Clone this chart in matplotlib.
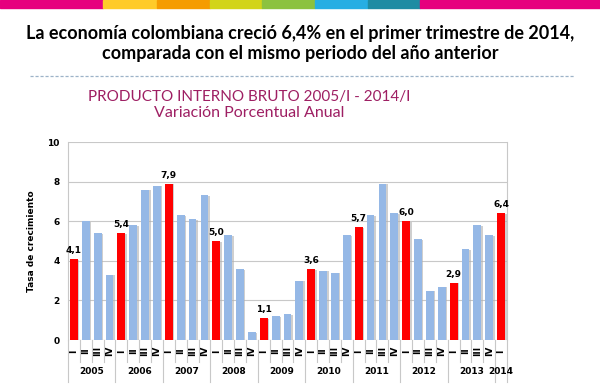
import matplotlib.pyplot as plt
from matplotlib.patches import Rectangle
import matplotlib.transforms as mtransforms

# datos: variación porcentual anual del PIB por trimestre
anios = ['2005', '2006', '2007', '2008', '2009', '2010', '2011', '2012', '2013', '2014']
trimestres = ['I', 'II', 'III', 'IV']
valores = [4.1, 6.0, 5.4, 3.3,
           5.4, 5.8, 7.6, 7.8,
           7.9, 6.3, 6.1, 7.3,
           5.0, 5.3, 3.6, 0.4,
           1.1, 1.2, 1.3, 3.0,
           3.6, 3.5, 3.4, 5.3,
           5.7, 6.3, 7.9, 6.4,
           6.0, 5.1, 2.5, 2.7,
           2.9, 4.6, 5.8, 5.3,
           6.4]

etiquetas = [trimestres[i % 4] for i in range(len(valores))]
x = list(range(len(valores)))
colores = ['#FF0000' if i % 4 == 0 else '#95B8E6' for i in x]

fig = plt.figure(figsize=(6, 3.86), dpi=100)
fig.patch.set_facecolor('white')

# franja de colores superior
franja = [(0, 103, '#E6007E'), (103, 157, '#FFCB29'), (157, 210, '#F59C00'),
          (210, 262, '#D2D419'), (262, 315, '#8CC23F'), (315, 368, '#27AEE3'),
          (368, 420, '#1E8CA3'), (420, 600, '#E6007E')]
for x0, x1, c in franja:
    fig.patches.append(Rectangle((x0 / 600, 1 - 8 / 386), (x1 - x0) / 600, 8 / 386,
                                 transform=fig.transFigure, color=c, zorder=5))

fig.text(0.5, 1 - 33 / 386, 'La economía colombiana creció 6,4% en el primer trimestre de 2014,',
         ha='center', va='center', fontsize=13.0, fontweight='bold', family='Lato')
fig.text(0.5, 1 - 54 / 386, 'comparada con el mismo periodo del año anterior',
         ha='center', va='center', fontsize=13.0, fontweight='bold', family='Lato')
fig.lines.append(plt.Line2D([30 / 600, 575 / 600], [1 - 76 / 386, 1 - 76 / 386],
                            transform=fig.transFigure, color='#9DB3C8', lw=0.9,
                            linestyle=(0, (2.5, 1.5))))

fig.text(249 / 600, 1 - 97 / 386, 'PRODUCTO INTERNO BRUTO 2005/I - 2014/I',
         ha='center', va='center', fontsize=11, color='#9E1F63', family='Lato')
fig.text(249 / 600, 1 - 113 / 386, 'Variación Porcentual Anual',
         ha='center', va='center', fontsize=11.5, color='#9E1F63', family='Lato')

ax = fig.add_axes([68 / 600, 1 - 340 / 386, 439 / 600, 198 / 386])
ancho = 0.66
# sombra
ax.bar([i + 0.13 for i in x], [v - 0.04 for v in valores], width=ancho,
       color='#B0B0B0', alpha=0.6, zorder=2)
ax.bar(x, valores, width=ancho, color=colores, zorder=3)

for i, v in enumerate(valores):
    if i % 4 == 0:
        ax.text(i, v + 0.2, f'{v:.1f}'.replace('.', ','), ha='center', va='bottom',
                fontsize=6.5, fontweight='bold', family='DejaVu Sans')

ax.set_xlim(-0.5, len(valores) - 0.5)
ax.set_ylim(0, 10)
ax.set_yticks([0, 2, 4, 6, 8, 10])
ax.set_yticklabels(['0', '2', '4', '6', '8', '10'], fontsize=6.5, fontweight='bold')
ax.tick_params(axis='y', length=0, pad=6)
ax.set_xticks([])
ax.grid(axis='y', color='#C8C8C8', lw=0.8, zorder=0)
for s in ['top', 'bottom']:
    ax.spines[s].set_visible(False)
for s in ['left', 'right']:
    ax.spines[s].set_color('#C8C8C8')
ax.set_ylabel('Tasa de crecimiento', fontsize=6.5, fontweight='bold', labelpad=8)

# tabla de categorías bajo el eje
trans = mtransforms.blended_transform_factory(ax.transData, ax.transAxes)
h_trim = 22 / 198
h_anio = 42 / 198
for i, et in enumerate(etiquetas):
    ax.text(i, -11 / 198, et, transform=trans, rotation=90, ha='center', va='center',
            fontsize=6.5, fontweight='bold')
for i in range(len(valores) + 1):
    largo = h_anio if i % 4 == 0 or i == len(valores) else h_trim
    ax.plot([i - 0.5, i - 0.5], [0, -largo], transform=trans, color='#C8C8C8',
            lw=0.8, clip_on=False)
for k, a in enumerate(anios):
    n = min(4, len(valores) - 4 * k)
    ax.text(4 * k + (n - 1) / 2, -31 / 198, a, transform=trans, ha='center', va='center',
            fontsize=6.5, fontweight='bold')

fig.savefig('out.png', dpi=100)
